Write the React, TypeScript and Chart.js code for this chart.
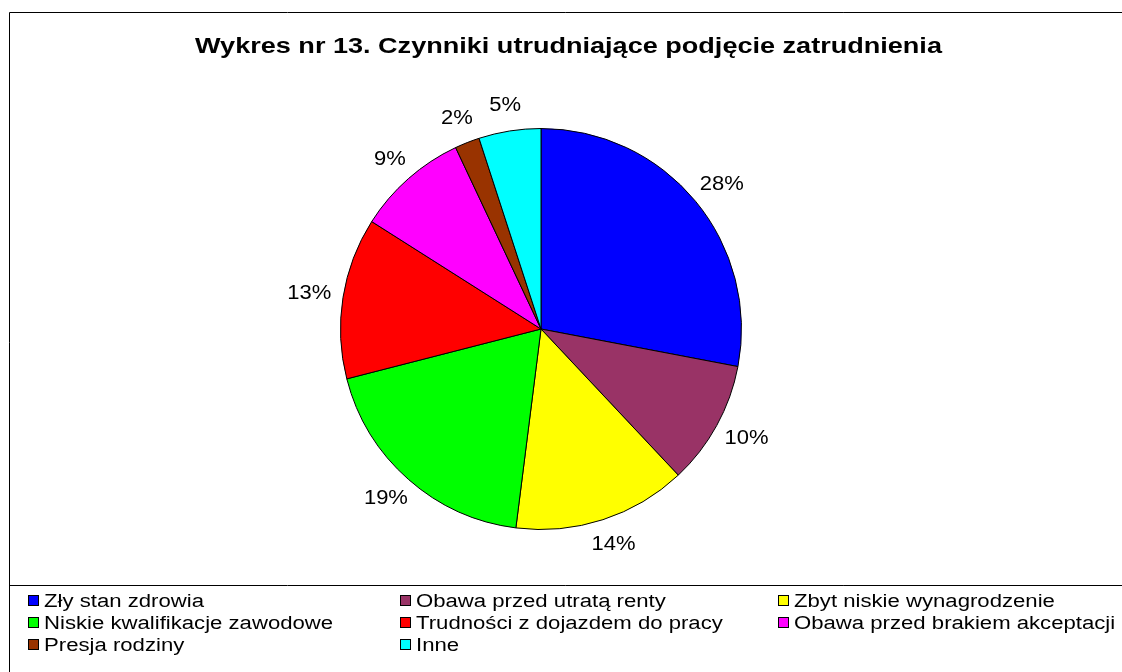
import React, { useEffect, useRef } from "react";
import { Chart, registerables } from "chart.js";

Chart.register(...registerables);

const TITLE = "Wykres nr 13. Czynniki utrudniające podjęcie zatrudnienia";
const categories = [
  "Zły stan zdrowia",
  "Obawa przed utratą renty",
  "Zbyt niskie wynagrodzenie",
  "Niskie kwalifikacje zawodowe",
  "Trudności z dojazdem do pracy",
  "Obawa przed brakiem akceptacji",
  "Presja rodziny",
  "Inne",
];
const values = [28, 10, 14, 19, 13, 9, 2, 5];
const colors = ["#0000FF", "#993366", "#FFFF00", "#00FF00", "#FF0000", "#FF00FF", "#993300", "#00FFFF"];
const legendColumns = [28, 400, 778];

const FONT = "'Liberation Sans', Arial, sans-serif";

function scaledText(ctx: CanvasRenderingContext2D, text: string, x: number, y: number, sx: number) {
  ctx.save();
  ctx.translate(x, y);
  ctx.scale(sx, 1);
  ctx.fillText(text, 0, 0);
  ctx.restore();
}

const decorPlugin = {
  id: "decor",
  afterDraw(chart: any) {
    const ctx = chart.ctx as CanvasRenderingContext2D;
    ctx.save();
    // frame
    ctx.strokeStyle = "#000";
    ctx.lineWidth = 1;
    ctx.beginPath();
    ctx.moveTo(1122, 12.5);
    ctx.lineTo(9.5, 12.5);
    ctx.lineTo(9.5, 672);
    ctx.moveTo(9.5, 585.5);
    ctx.lineTo(1122, 585.5);
    ctx.stroke();
    // title
    ctx.fillStyle = "#000";
    ctx.font = `bold 22px ${FONT}`;
    ctx.textAlign = "center";
    ctx.textBaseline = "middle";
    scaledText(ctx, TITLE, 568.5, 47, 1.23);
    // percent labels
    const meta = chart.getDatasetMeta(0);
    const total = values.reduce((a, b) => a + b, 0);
    ctx.font = `20px ${FONT}`;
    meta.data.forEach((arc: any, i: number) => {
      const mid = (arc.startAngle + arc.endAngle) / 2;
      const ux = Math.cos(mid);
      const uy = Math.sin(mid);
      const txt = Math.round((values[i] / total) * 100) + "%";
      const w = ctx.measureText(txt).width * 1.1;
      const r = arc.outerRadius + 12;
      const x = arc.x + ux * (r + w / 2);
      const y = arc.y + uy * (r + 14);
      scaledText(ctx, txt, x, y, 1.1);
    });
    // legend
    ctx.textAlign = "left";
    ctx.font = `18px ${FONT}`;
    categories.forEach((c, i) => {
      const col = i % 3;
      const row = Math.floor(i / 3);
      const bx = legendColumns[col];
      const cy = 601 + row * 22;
      ctx.fillStyle = colors[i];
      ctx.fillRect(bx + 0.5, cy - 5.5, 10, 10);
      ctx.strokeStyle = "#000";
      ctx.strokeRect(bx + 0.5, cy - 5.5, 10, 10);
      ctx.fillStyle = "#000";
      scaledText(ctx, c, bx + 16, cy + 1, 1.23);
    });
    ctx.restore();
  },
};

export default function App() {
  const ref = useRef<HTMLCanvasElement | null>(null);
  useEffect(() => {
    if (!ref.current) return;
    const chart = new Chart(ref.current, {
      type: "pie",
      data: {
        labels: categories,
        datasets: [
          {
            data: values,
            backgroundColor: colors,
            borderColor: "#000",
            borderWidth: 1,
          },
        ],
      },
      options: {
        responsive: false,
        animation: false,
        layout: { padding: { top: 128, bottom: 142, left: 0, right: 40 } },
        plugins: {
          legend: { display: false },
          title: { display: false },
          tooltip: { enabled: false },
        },
      },
      plugins: [decorPlugin],
    });
    return () => chart.destroy();
  }, []);
  return (
    <div style={{ position: "fixed", left: 0, top: 0, width: 1122, height: 672, background: "#fff" }}>
      <canvas ref={ref} width={1122} height={672} style={{ width: 1122, height: 672 }} />
    </div>
  );
}
